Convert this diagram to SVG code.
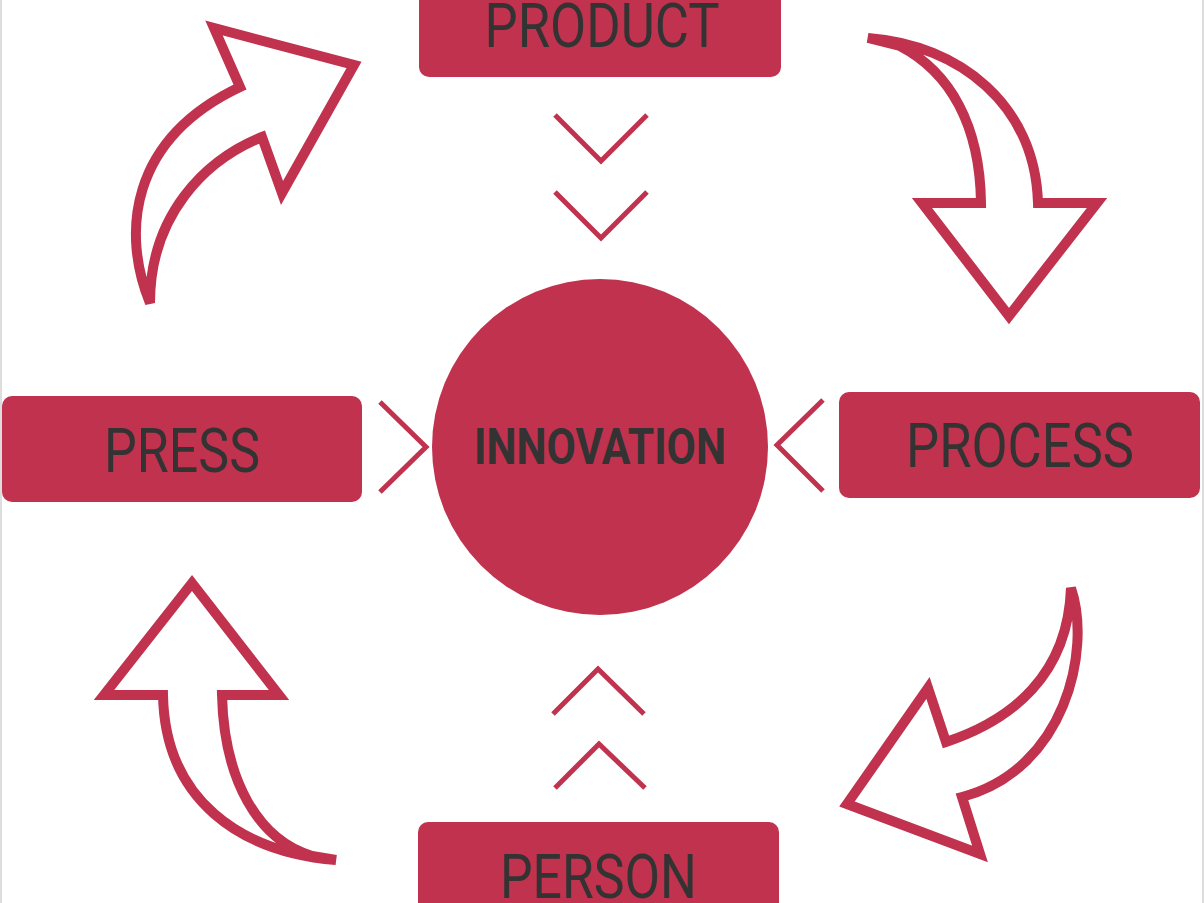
<svg xmlns="http://www.w3.org/2000/svg" width="1204" height="903" viewBox="0 0 1204 903">
<style>
.box{fill:#c0324e}
.lbl{font-family:Roboto,"Liberation Sans",sans-serif;font-size:62px;fill:#333333;text-anchor:middle}
.core{font-family:Roboto,"Liberation Sans",sans-serif;font-size:50px;font-weight:bold;fill:#333333;text-anchor:middle}
.chev{fill:none;stroke:#c0324e;stroke-width:5}
.arr{fill:#ffffff;stroke:#c0324e;stroke-width:10;stroke-linejoin:miter;stroke-miterlimit:3}
</style>
<rect x="0" y="0" width="1204" height="903" fill="#ffffff"/>
<rect x="0" y="0" width="2" height="903" fill="#dddddd"/>
<rect x="1202" y="0" width="2" height="903" fill="#dddddd"/>
<g id="connectors">
<path class="chev" d="M555,115 L601,161 L647,115"/>
<path class="chev" d="M555,192 L601,238 L647,192"/>
<path class="chev" d="M553,714 L598,669 L644,714"/>
<path class="chev" d="M555,788 L599,744 L645,788"/>
<path class="chev" d="M380,402 L426,447 L380,492"/>
<path class="chev" d="M823,400 L777,445 L823,491"/>
<path class="arr" d="M150,303 C 122,235 128,140 240,87 L214,28 L354,65 L282,193 L262,137 C 205,160 150,215 150,303 Z"/>
<path class="arr" d="M868,38 C 960,45 1035,105 1038,203 L1097,203 L1009,316 L922,203 L981,203 C 980,125 950,72 900,46 Z"/>
<path class="arr" d="M1071,588 C 1092,650 1065,770 962,797 L980,854 L847,804 L928,688 L946,742 C 1012,720 1068,675 1071,588 Z"/>
<path class="arr" d="M336,860 C 240,852 165,800 163,695 L104,695 L192,583 L279,695 L222,695 C 224,780 258,840 312,856 Z"/>
</g>
<g id="node-product">
<rect class="box" x="419" y="-29" width="362" height="106" rx="10"/>
<text class="lbl" x="602" y="47" textLength="235" lengthAdjust="spacingAndGlyphs">PRODUCT</text>
</g>
<g id="node-press">
<rect class="box" x="2" y="396" width="360" height="106" rx="10"/>
<text class="lbl" x="182" y="472" textLength="156" lengthAdjust="spacingAndGlyphs">PRESS</text>
</g>
<g id="node-process">
<rect class="box" x="839" y="392" width="361" height="106" rx="10"/>
<text class="lbl" x="1020" y="467" textLength="228" lengthAdjust="spacingAndGlyphs">PROCESS</text>
</g>
<g id="node-person">
<rect class="box" x="418" y="822" width="361" height="106" rx="10"/>
<text class="lbl" x="598.5" y="898" textLength="197" lengthAdjust="spacingAndGlyphs">PERSON</text>
</g>
<g id="node-innovation">
<circle class="box" cx="600" cy="447" r="168"/>
<text class="core" x="600" y="464" textLength="252" lengthAdjust="spacingAndGlyphs">INNOVATION</text>
</g>
</svg>
